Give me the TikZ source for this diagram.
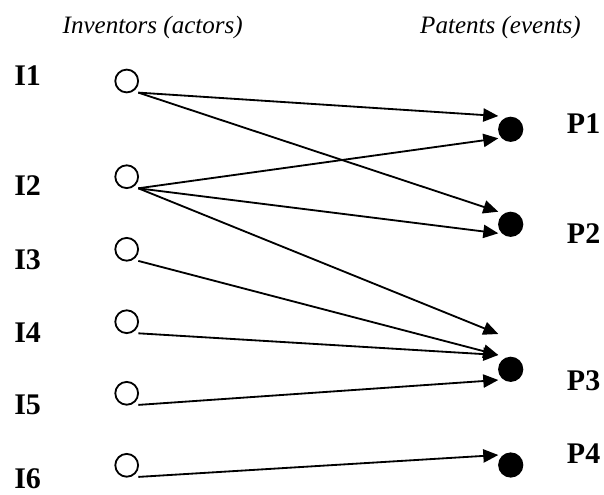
\documentclass[tikz,border=0pt]{standalone}
\usepackage{fontspec}
\setmainfont{Liberation Serif}
\usepackage{tikz}
\usetikzlibrary{arrows.meta,calc}

\begin{document}
\begin{tikzpicture}[x=0.025cm, y=-0.025cm,
        erfinder/.style={circle, draw, line width=1.3pt, minimum size=0.57cm, inner sep=0pt},
        patent/.style={circle, fill, minimum size=0.63cm, inner sep=0pt},
        marke/.style={font=\fontsize{21.3}{24}\selectfont\bfseries, inner sep=0pt, anchor=base west},
        kopf/.style={font=\fontsize{17.8}{20}\selectfont\itshape, inner sep=0pt, anchor=base},
        pfeil/.style={line width=1.3pt, -{Triangle[length=0.375cm, width=0.33cm]}}]
        \useasboundingbox (0,0) rectangle (604,494);

        % Ueberschriften
        \node[kopf] (kopfI) at (152.7,33) {Inventors (actors)};
        \node[kopf] (kopfP) at (500.5,33) {Patents (events)};

        % Erfinder (leere Kreise)
        \foreach \n/\y/\b in {1/81/85, 2/176.7/195, 3/249.3/269, 4/321.7/342, 5/393.3/414, 6/465.3/488} {
            \node[erfinder] (i\n) at (126.7,\y) {};
            \node[marke] (li\n) at (14,\b) {I\n};
            \coordinate (s\n) at ($(i\n)+(11.6,11.6)$); % Startpunkt rechts unten
        }

        % Patente (volle Kreise)
        \foreach \n/\y/\b in {1/129.3/133, 2/224.3/243, 3/369.3/390, 4/465/463} {
            \node[patent] (p\n) at (510.7,\y) {};
            \node[marke] (lp\n) at (566.7,\b) {P\n};
        }

        % Endpunkte der Pfeile
        \coordinate (e11) at ($(p1)+(-12.4,-13.3)$);
        \coordinate (e21) at ($(p1)+(-12.4,9)$);
        \coordinate (e12) at ($(p2)+(-12.4,-12.6)$);
        \coordinate (e22) at ($(p2)+(-12.4,9)$);
        \coordinate (e23) at ($(p3)+(-12.4,-35.3)$); % endet vor P3
        \coordinate (e33) at ($(p3)+(-12.4,-14.3)$);
        \coordinate (e53) at ($(p3)+(-12.4,10.7)$);
        \coordinate (e64) at ($(p4)+(-12.4,-10)$);

        % Pfeile
        \draw[pfeil] (s1) -- (e11);
        \draw[pfeil] (s1) -- (e12);
        \draw[pfeil] (s2) -- (e21);
        \draw[pfeil] (s2) -- (e22);
        \draw[pfeil] (s2) -- (e23);
        \draw[pfeil] (s3) -- (e33);
        \draw[pfeil] (s4) -- (e33);
        \draw[pfeil] (s5) -- (e53);
        \draw[pfeil] (s6) -- (e64);

    \end{tikzpicture}
\end{document}
